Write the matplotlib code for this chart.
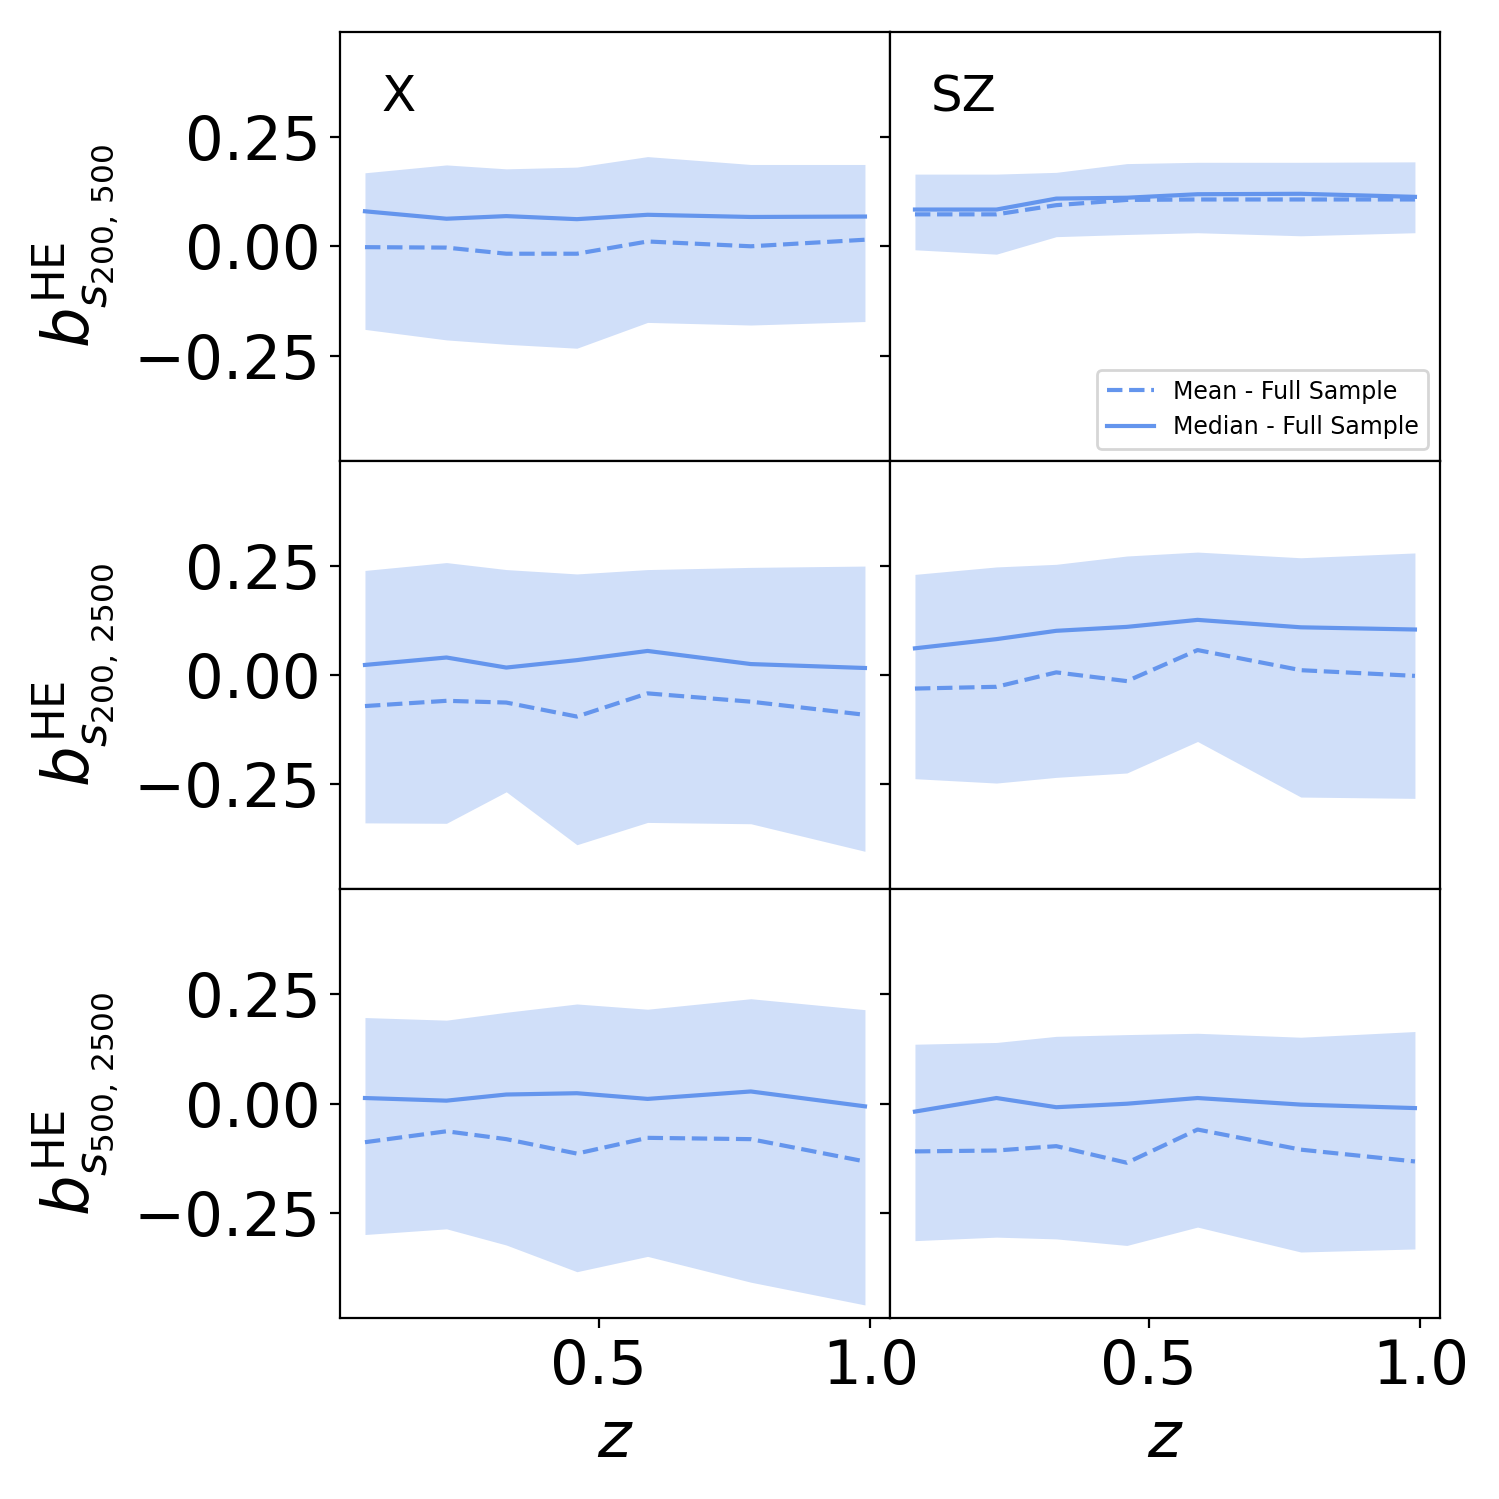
import numpy as np
import matplotlib
matplotlib.use("Agg")
import matplotlib.pyplot as plt

# redshift bins
z = [0.07, 0.22, 0.33, 0.46, 0.59, 0.78, 0.99]

# rows: s200,500 / s200,2500 / s500,2500 ; columns: X / SZ
x_mean = [
    [-0.002, -0.003, -0.017, -0.017, 0.011, 0.000, 0.015],
    [-0.071, -0.059, -0.063, -0.095, -0.042, -0.061, -0.091],
    [-0.088, -0.063, -0.081, -0.114, -0.078, -0.081, -0.132],
]
x_median = [
    [0.080, 0.063, 0.069, 0.062, 0.072, 0.067, 0.068],
    [0.023, 0.040, 0.017, 0.034, 0.055, 0.025, 0.016],
    [0.013, 0.007, 0.021, 0.024, 0.011, 0.028, -0.006],
]
x_hi = [
    [0.168, 0.186, 0.177, 0.181, 0.205, 0.187, 0.187],
    [0.239, 0.257, 0.241, 0.231, 0.241, 0.246, 0.249],
    [0.197, 0.191, 0.209, 0.228, 0.216, 0.240, 0.215],
]
x_lo = [
    [-0.190, -0.214, -0.224, -0.233, -0.174, -0.180, -0.172],
    [-0.338, -0.339, -0.267, -0.388, -0.337, -0.340, -0.403],
    [-0.299, -0.286, -0.323, -0.384, -0.349, -0.408, -0.460],
]

sz_mean = [
    [0.073, 0.073, 0.094, 0.106, 0.107, 0.107, 0.107],
    [-0.031, -0.027, 0.006, -0.014, 0.057, 0.011, -0.002],
    [-0.109, -0.107, -0.097, -0.135, -0.059, -0.105, -0.132],
]
sz_median = [
    [0.084, 0.084, 0.109, 0.111, 0.119, 0.120, 0.113],
    [0.061, 0.082, 0.101, 0.110, 0.126, 0.109, 0.104],
    [-0.018, 0.013, -0.008, 0.000, 0.013, -0.002, -0.010],
]
sz_hi = [
    [0.165, 0.165, 0.169, 0.189, 0.192, 0.192, 0.193],
    [0.230, 0.247, 0.253, 0.272, 0.281, 0.268, 0.279],
    [0.136, 0.140, 0.154, 0.158, 0.161, 0.152, 0.165],
]
sz_lo = [
    [-0.008, -0.018, 0.022, 0.027, 0.031, 0.024, 0.031],
    [-0.237, -0.247, -0.234, -0.224, -0.152, -0.279, -0.282],
    [-0.313, -0.305, -0.309, -0.324, -0.282, -0.339, -0.332],
]

row_labels = [r'$b^{\rm HE}_{s_{200,\,500}}$',
              r'$b^{\rm HE}_{s_{200,\,2500}}$',
              r'$b^{\rm HE}_{s_{500,\,2500}}$']
col_titles = ['X', 'SZ']

color = 'cornflowerblue'
tick_fs = 22
label_fs = 23

fig, axes = plt.subplots(3, 2, figsize=(7.495, 7.495), dpi=200,
                         sharex=True, sharey=True)
fig.subplots_adjust(left=0.2268, right=0.9606, top=0.9787, bottom=0.1207,
                    wspace=0, hspace=0)

cols = [(x_mean, x_median, x_lo, x_hi), (sz_mean, sz_median, sz_lo, sz_hi)]
for r in range(3):
    for c in range(2):
        ax = axes[r, c]
        mean, median, lo, hi = cols[c]
        ax.fill_between(z, lo[r], hi[r], color=color, alpha=0.3, lw=0)
        ax.plot(z, mean[r], '--', color=color, lw=1.5, label='Mean - Full Sample')
        ax.plot(z, median[r], '-', color=color, lw=1.5, label='Median - Full Sample')
        ax.set_ylim(-0.49, 0.49)
        ax.set_yticks([-0.25, 0.0, 0.25])
        ax.set_xticks([0.5, 1.0])
        ax.tick_params(labelsize=tick_fs)
        if r < 2:
            ax.tick_params(axis='x', bottom=False)
        else:
            ax.set_xlabel(r'$z$', fontsize=label_fs)
        if c == 0:
            ax.set_ylabel(row_labels[r], fontsize=label_fs)
        if r == 0:
            ax.text(0.075, 0.815, col_titles[c], transform=ax.transAxes,
                    fontsize=18, va='baseline')

axes[0, 1].legend(loc='lower right', fontsize=8.5)

fig.savefig('out.png', dpi=200)
